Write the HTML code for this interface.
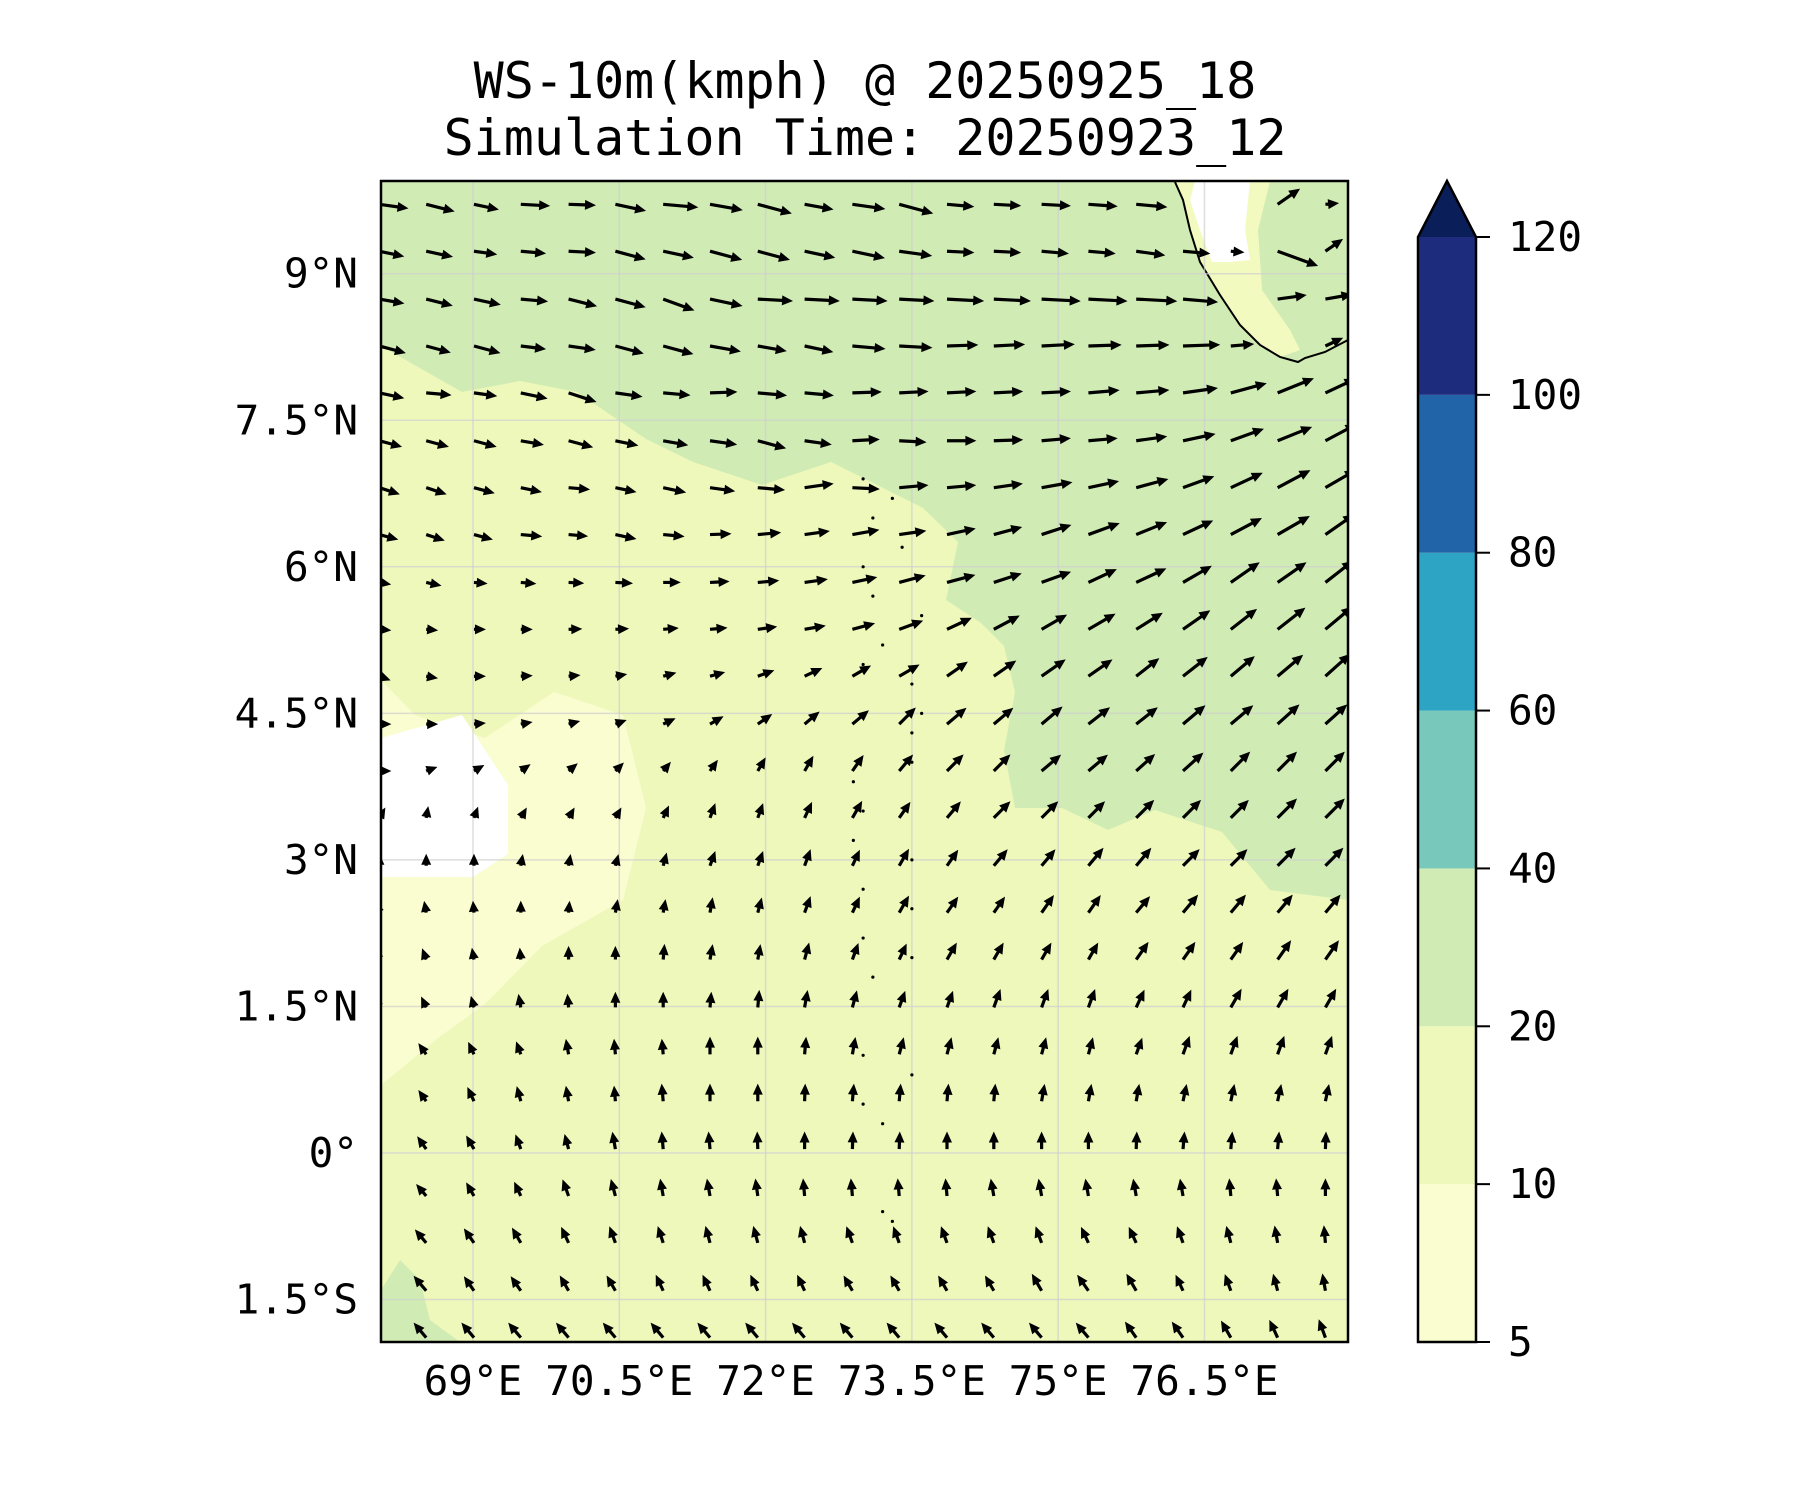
<!DOCTYPE html>
<html><head><meta charset="utf-8">
<style>
html,body{margin:0;padding:0;background:#fff;}
svg{display:block;font-family:"DejaVu Sans Mono","Liberation Mono",monospace;}
</style></head>
<body>
<svg id="chart" width="1800" height="1500" viewBox="0 0 1800 1500" xmlns="http://www.w3.org/2000/svg">
<text x="865" y="98" font-size="50" text-anchor="middle">WS-10m(kmph) @ 20250925_18</text>
<text x="865" y="155" font-size="50" text-anchor="middle">Simulation Time: 20250923_12</text>
<defs><clipPath id="plotclip"><rect x="381" y="181" width="967" height="1161"/></clipPath></defs>
<g clip-path="url(#plotclip)">
<rect x="381" y="181" width="967" height="1161" fill="#eff8bb"/>
<polygon fill="#d0ecb4" points="381,181 1348,181 1348,900 1270,890 1222,832 1155,810 1108,830 1062,808 1015,808 1004,750 1015,692 1004,646 981,623 946,600 958,542 923,508 877,485 831,462 762,485 693,462 646,439 577,392 520,381 462,392 381,346"/>
<polygon fill="#d0ecb4" points="381,1290 400,1260 420,1280 430,1320 460,1342 381,1342"/>
<polygon fill="#fafdd0" points="381,680 415,715 485,738 554,692 623,715 646,808 623,900 542,946 485,1004 438,1038 381,1085"/>
<polygon fill="#ffffff" points="381,738 462,715 508,785 508,854 473,877 381,877"/>
<polygon fill="#d0ecb4" points="1175,181 1348,181 1348,343 1325,352 1305,358 1298,362 1280,357 1260,345 1240,325 1220,295 1200,262 1190,230 1183,200"/>
<polygon fill="#f3fac0" points="1175,181 1270,181 1258,230 1262,290 1290,330 1300,350 1280,357 1260,345 1240,325 1220,295 1200,262 1190,230 1183,200"/>
<polygon fill="#ffffff" points="1195,181 1250,181 1245,230 1250,260 1230,262 1212,262 1200,230 1190,200"/>
<polyline fill="none" stroke="#000" stroke-width="2" points="1175,182 1183,200 1190,230 1200,262 1220,295 1240,325 1260,345 1280,357 1298,362 1305,358 1325,352 1348,340"/>
<g id="grid"></g>
<g id="dots"></g>
<g id="arrows"></g>
</g>
<rect x="381" y="181" width="967" height="1161" fill="none" stroke="#000" stroke-width="2.5"/>
<g id="yticks"></g>
<g id="xticks"></g>
<g id="cbar"></g>
</svg>
<script>
const NS="http://www.w3.org/2000/svg";
const latTicks=[9,7.5,6,4.5,3,1.5,0,-1.5];
const latLabels=["9°N","7.5°N","6°N","4.5°N","3°N","1.5°N","0°","1.5°S"];
const lonTicks=[69,70.5,72,73.5,75,76.5];
const lonLabels=["69°E","70.5°E","72°E","73.5°E","75°E","76.5°E"];
const cbLevels=[5,10,20,40,60,80,100,120];
const cbColors=["#fafdd0","#eff8bb","#d0ecb4","#78c9bb","#2ea4c4","#2264a8","#1d2c7c"];
const cbExtendColor="#0a1f59";
const lats=[9.71,9.23,8.74,8.26,7.78,7.29,6.81,6.33,5.84,5.36,4.88,4.39,3.91,3.43,2.94,2.46,1.98,1.49,1.01,0.53,0.04,-0.44,-0.92,-1.41,-1.89];
const lons=[68.04,68.52,69.01,69.49,69.98,70.46,70.95,71.43,71.92,72.40,72.89,73.37,73.86,74.34,74.83,75.31,75.80,76.28,76.77,77.25,77.74];
const dirRows=[
[-8,-14,-12,-3,-2,-12,-5,-10,-15,-10,-8,-15,-5,-3,-3,-4,-5,null,null,35,5],
[-12,-12,-8,-5,-3,-15,-12,-15,-15,-12,-12,-8,-3,-3,-5,-5,-8,-5,-5,-20,35],
[-10,-14,-12,-5,-14,-15,-20,-12,-3,-3,-3,-3,-3,-3,-3,-3,-3,-5,null,8,10],
[-15,-15,-15,-7,-8,-15,-15,-10,-10,-12,-5,-3,2,3,3,2,2,2,5,null,25],
[-12,-5,-8,-12,-18,-8,-5,2,-5,-5,2,3,3,3,3,5,5,8,15,22,25],
[-15,-15,-15,-10,-15,-12,-10,-8,-15,-8,3,-3,0,2,5,5,8,12,20,22,28],
[-18,-18,-15,-12,-5,-12,-12,-8,-5,8,-3,5,5,8,10,12,15,20,25,28,30],
[-15,-18,-15,-5,-5,-12,-5,2,5,8,10,8,12,15,18,20,22,25,28,30,35],
[-10,-12,-5,-5,-3,-3,0,3,5,8,12,15,15,18,20,25,25,30,35,35,38],
[-5,-5,0,0,2,3,5,5,8,10,15,20,25,28,30,30,32,35,38,38,40],
[-20,-10,0,3,5,10,15,15,20,25,30,30,35,35,35,35,38,38,40,40,42],
[0,0,5,10,15,20,25,30,35,40,40,45,40,40,40,38,38,40,40,42,42],
[0,20,30,35,40,45,50,55,60,60,55,50,45,45,40,40,42,42,45,45,45],
[60,80,70,60,60,60,65,70,70,65,60,55,50,45,45,45,45,45,45,45,45],
[90,90,90,80,80,75,75,70,70,70,65,60,55,50,50,50,50,45,45,45,45],
[110,100,95,90,85,80,80,80,75,70,65,60,55,55,55,55,50,50,50,50,50],
[120,110,100,95,90,90,85,80,80,75,70,65,60,60,60,60,55,55,55,55,55],
[125,115,105,100,95,90,90,85,85,80,75,70,70,70,70,70,65,65,60,60,60],
[130,125,115,110,100,95,95,90,90,85,80,75,75,75,75,75,70,70,70,70,70],
[135,125,115,105,100,95,95,90,90,88,85,85,85,85,80,80,80,78,78,78,78],
[135,125,120,110,105,100,95,95,92,90,88,88,90,90,90,90,88,85,85,85,88],
[135,130,120,115,110,105,100,100,98,95,95,95,95,100,100,100,100,100,95,95,90],
[130,130,125,120,115,110,108,105,105,105,110,110,110,110,110,115,115,110,105,100,95],
[125,130,125,125,120,120,115,115,115,115,120,120,120,120,120,125,120,115,110,105,100],
[135,130,130,130,130,130,130,130,130,130,130,130,130,130,130,130,125,125,120,115,110]];
const spdRows=[
[30,30,26,30,28,32,36,34,36,30,34,36,28,28,30,30,32,0,0,28,14],
[26,28,24,26,28,32,32,34,34,32,34,34,28,28,28,28,30,28,14,44,22],
[26,28,28,28,30,32,34,34,36,36,36,36,38,38,40,40,42,36,0,30,28],
[28,26,28,26,28,30,32,32,30,30,34,34,32,32,34,34,34,38,24,0,20],
[26,26,24,28,30,28,28,28,30,30,30,30,30,30,30,32,34,36,38,40,34],
[24,24,24,24,26,24,26,28,30,28,28,28,30,30,30,30,32,34,36,38,36],
[22,22,22,22,22,22,24,26,28,30,28,30,30,30,32,32,34,34,36,38,36],
[20,20,20,22,20,22,22,22,24,26,28,28,30,30,32,34,34,34,36,38,36],
[12,16,14,16,16,18,18,20,22,24,26,28,30,30,32,32,34,34,36,36,36],
[10,12,10,12,14,14,16,18,20,22,24,26,28,30,30,32,32,34,34,36,36],
[8,6,6,8,10,12,14,16,18,20,22,24,26,28,30,30,30,32,32,34,34],
[4,4,6,8,10,12,14,16,18,20,22,24,26,26,28,28,28,30,30,30,30],
[4,4,6,6,8,10,12,14,16,18,20,22,24,24,26,26,26,28,28,28,28],
[4,4,6,8,10,12,14,16,16,18,20,20,22,24,24,24,26,26,26,28,28],
[4,6,6,8,10,12,14,16,16,18,18,20,20,22,22,24,24,24,24,26,26],
[8,8,10,10,12,14,14,16,16,18,18,20,20,20,22,22,22,24,24,24,24],
[10,10,12,12,14,14,16,16,16,18,18,18,20,20,20,20,22,22,22,24,24],
[12,12,12,14,14,16,16,16,18,18,18,18,18,20,20,20,20,20,22,22,22],
[14,14,14,14,16,16,16,18,18,18,18,18,18,18,18,18,18,20,20,20,20],
[14,14,16,16,16,16,18,18,18,18,18,18,18,18,18,18,18,18,18,18,18],
[14,16,16,16,16,18,18,18,18,18,18,18,18,18,18,18,18,18,18,18,18],
[16,16,16,16,18,18,18,18,18,18,18,18,18,18,18,18,18,18,18,18,18],
[18,18,18,18,18,18,18,18,18,18,18,18,18,18,18,18,18,18,18,18,18],
[20,20,18,18,18,18,18,18,18,18,18,18,18,18,20,20,20,18,18,18,18],
[20,20,20,20,20,20,20,20,20,20,20,20,20,20,20,20,20,20,20,20,20]];
const islandLats=[6.9,6.7,6.5,6.2,6.0,5.7,5.5,5.2,5.0,4.8,4.5,4.3,4.0,3.8,3.5,3.2,3.0,2.7,2.5,2.2,2.0,1.8,1.0,0.8,0.5,0.3,-0.6,-0.7];
const islandLons=[73.0,73.3,73.1,73.4,73.0,73.1,73.6,73.2,73.0,73.5,73.6,73.5,73.5,72.9,73.0,72.9,73.5,73.0,73.5,73.0,73.5,73.1,73.0,73.5,73.0,73.2,73.2,73.3];
const cbLabels=["5","10","20","40","60","80","100","120"];

const X=lon=>473+(lon-69)*97.53;
const Y=lat=>1153-lat*97.7;
const CBY=i=>1342-i*(1342-237)/(cbLevels.length-1);
function mk(tag,attrs,parent){const e=document.createElementNS(NS,tag);for(const k in attrs)e.setAttribute(k,attrs[k]);parent.appendChild(e);return e;}

const grid=document.getElementById('grid');
latTicks.forEach(l=>{const e=mk('line',{x1:381,x2:1348,y1:Y(l),y2:Y(l),stroke:'#cfcfcf','stroke-width':1.5,'stroke-opacity':0.7},grid);

});
lonTicks.forEach(l=>{const e=mk('line',{x1:X(l),x2:X(l),y1:181,y2:1342,stroke:'#cfcfcf','stroke-width':1.5,'stroke-opacity':0.7},grid);

});

const dots=document.getElementById('dots');
islandLats.forEach((la,i)=>{const e=mk('circle',{cx:X(islandLons[i]),cy:Y(la),r:1.6,fill:'#000'},dots);

});

const yt=document.getElementById('yticks');
latTicks.forEach((l,i)=>{const t=mk('text',{x:358,y:Y(l)+14,'font-size':41,'text-anchor':'end'},yt);t.textContent=latLabels[i];

});
const xt=document.getElementById('xticks');
lonTicks.forEach((l,i)=>{const t=mk('text',{x:X(l),y:1395,'font-size':41,'text-anchor':'middle'},xt);t.textContent=lonLabels[i];

});

const ag=document.getElementById('arrows');
const SC=0.98,w=3.2,hw=10,hl=11;
lats.forEach((la,r)=>{lons.forEach((lo,c)=>{
  const d=dirRows[r][c],s=spdRows[r][c];
  if(d===null||!s)return;
  const L=Math.max(s*SC,hl+1);
  const pts=[[0,-w/2],[L-hl,-w/2],[L-hl,-hw/2],[L,0],[L-hl,hw/2],[L-hl,w/2],[0,w/2]].map(p=>p.join(',')).join(' ');
  const p=mk('polygon',{points:pts,fill:'#000',transform:`translate(${X(lo)},${Y(la)}) rotate(${-d})`},ag);
  
  
});});

const cb=document.getElementById('cbar');
const cx0=1418,cx1=1476;
cbColors.forEach((col,i)=>{const e=mk('rect',{x:cx0,y:CBY(i+1),width:cx1-cx0,height:CBY(i)-CBY(i+1),fill:col},cb);

});
const tri=mk('polygon',{points:`${cx0},${CBY(7)} ${(cx0+cx1)/2},181 ${cx1},${CBY(7)}`,fill:cbExtendColor},cb);


const ol=mk('polygon',{points:`${cx0},${CBY(0)} ${cx0},${CBY(7)} ${(cx0+cx1)/2},181 ${cx1},${CBY(7)} ${cx1},${CBY(0)}`,fill:'none',stroke:'#000','stroke-width':2.5},cb);


cbLevels.forEach((v,i)=>{const y=CBY(i);
  const tk=mk('line',{x1:cx1,x2:cx1+14,y1:y,y2:y,stroke:'#000','stroke-width':2},cb);
  
  
  const t=mk('text',{x:1508,y:y+14,'font-size':41},cb);t.textContent=cbLabels[i];
  
  });
</script>
</body></html>
